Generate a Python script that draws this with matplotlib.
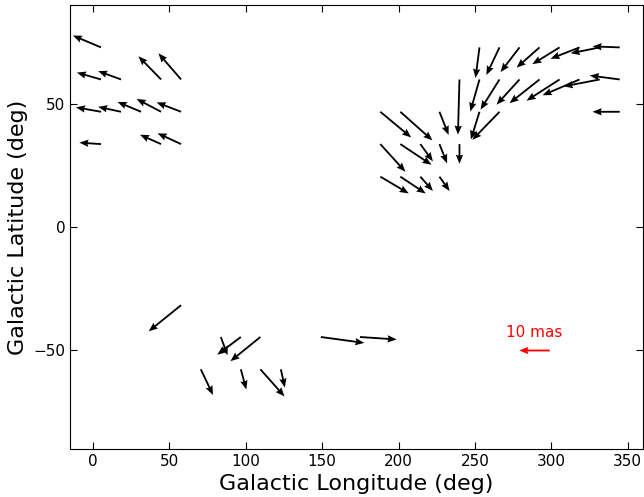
"""
Mapa de movimientos propios en coordenadas galácticas: cada flecha
sale de la posición del campo y apunta según (mu_l, mu_b) en mas.
"""

import matplotlib.pyplot as plt

# --- Posiciones de los campos (deg) ---
LON = [
    # norte, l < 60
    5.3, 5.3, 18.4, 44.6, 57.7,
    5.3, 18.4, 31.5, 44.6, 57.7,
    5.3, 44.6, 57.7,
    # norte, l > 180
    253.0, 266.1, 279.2, 292.3, 305.4, 318.5, 331.7, 344.8,
    239.9, 253.0, 266.1, 279.2, 292.3, 305.4, 318.5, 331.7, 344.8,
    188.1, 201.2, 226.8, 253.0, 266.1, 344.8,
    188.1, 201.2, 214.3, 226.8, 239.9,
    188.1, 201.2, 214.3, 226.8,
    # sur
    57.7,
    83.7, 96.8, 109.6, 149.2, 174.8,
    70.6, 96.8, 109.6, 123.0,
]
LAT = [
    72.8, 59.8, 59.8, 59.8, 59.8,
    46.7, 46.7, 46.7, 46.7, 46.7,
    33.6, 33.6, 33.6,
    72.8, 72.8, 72.8, 72.8, 72.8, 72.8, 72.8, 72.8,
    59.8, 59.8, 59.8, 59.8, 59.8, 59.8, 59.8, 59.8, 59.8,
    46.7, 46.7, 46.7, 46.7, 46.7, 46.7,
    33.6, 33.6, 33.6, 33.6, 33.6,
    20.4, 20.4, 20.4, 20.4,
    -31.7,
    -44.6, -44.6, -44.6, -44.6, -44.6,
    -57.7, -57.7, -57.7, -57.7,
]

# --- Movimientos propios (mas) ---
PM_L = [
    -9.2, -7.9, -7.5, -7.4, -7.4,
    -8.2, -7.5, -7.7, -8.0, -8.0,
    -7.1, -6.9, -7.7,
    -1.3, -4.3, -6.2, -7.5, -8.9, -9.5, -9.5, -8.9,
    -0.5, -3.0, -6.2, -7.5, -9.8, -10.8, -12.1, -11.8, -9.8,
    10.1, 10.5, 3.0, -2.8, -8.9, -8.9,
    8.2, 10.2, 4.1, 2.5, 0.0,
    9.3, 8.3, 4.1, 3.3,
    -10.6,
    2.2, -7.7, -9.8, 14.2, 12.0,
    4.0, 1.8, 7.9, 1.3,
]
PM_B = [
    2.4, 1.4, 1.7, 4.7, 5.3,
    0.9, 1.0, 2.0, 2.6, 1.9,
    0.3, 1.9, 2.2,
    -6.2, -5.6, -5.0, -4.1, -3.4, -2.3, -1.2, 0.2,
    -11.2, -6.5, -6.1, -5.1, -4.8, -4.3, -3.2, -1.4, 0.8,
    -5.2, -5.8, -4.7, -5.6, -5.7, 0.0,
    -5.6, -4.2, -3.5, -3.9, -4.0,
    -3.4, -3.4, -2.9, -2.9,
    -5.3,
    -3.7, -3.6, -4.9, -1.2, -0.5,
    -5.2, -4.1, -5.5, -3.7,
]

KEY_MAS = 10
KEY_LABEL = "10 mas"


def main():
    fig = plt.figure(figsize=(6.44, 4.97), dpi=100)
    ax = fig.add_axes([0.1087, 0.0966, 0.8897, 0.8934])

    # 0.5 mas por grado en el eje: 10 mas ~ 20 deg de longitud
    q = ax.quiver(
        LON, LAT, PM_L, PM_B,
        angles="xy", scale_units="xy", scale=0.5,
        width=0.0032, headwidth=4, headlength=5, headaxislength=4.5,
        color="black",
    )
    ax.quiverkey(
        q, 289, -50, KEY_MAS, KEY_LABEL, angle=180,
        coordinates="data", labelpos="N", color="red",
        labelcolor="red", fontproperties={"size": 11},
    )

    ax.set_xlim(-15, 360)
    ax.set_ylim(-90, 90)
    ax.set_xticks(range(0, 351, 50))
    ax.set_yticks([-50, 0, 50])
    ax.tick_params(direction="in", top=True, right=True, length=5,
                   labelsize=11)
    ax.set_xlabel("Galactic Longitude (deg)", fontsize=16, labelpad=4)
    ax.set_ylabel("Galactic Latitude (deg)", fontsize=16, labelpad=4)

    fig.savefig("out.png", dpi=100)


if __name__ == "__main__":
    main()
